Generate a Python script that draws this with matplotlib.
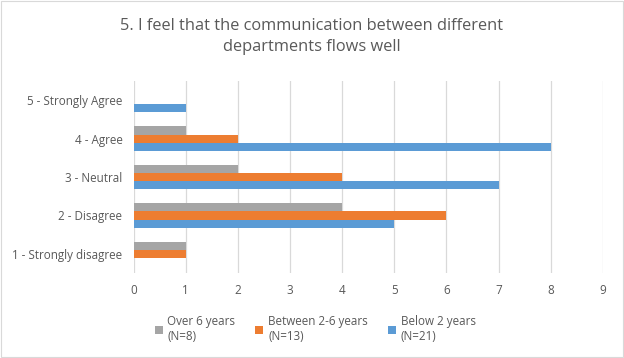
import matplotlib
matplotlib.use("Agg")
import matplotlib.pyplot as plt
import numpy as np
from matplotlib.patches import Rectangle

categories = ["1 - Strongly disagree", "2 - Disagree", "3 - Neutral", "4 - Agree", "5 - Strongly Agree"]
over6 = [1, 4, 2, 1, 0]
between = [1, 6, 4, 2, 0]
below2 = [0, 5, 7, 8, 1]
series_names = ["Over 6 years\n(N=8)", "Between 2-6 years\n(N=13)", "Below 2 years\n(N=21)"]
colors = ["#a5a5a5", "#ed7d31", "#5b9bd5"]
title = "5. I feel that the communication between different\ndepartments flows well"

plt.rcParams['font.family'] = ['Open Sans', 'DejaVu Sans']
fig = plt.figure(figsize=(6.24, 3.58), dpi=100)
ax = fig.add_axes([0.214, 0.237, 0.752, 0.537])

y = np.arange(len(categories))
h = 0.21
for vals, off, c, n in zip([over6, between, below2], [h, 0, -h], colors, series_names):
    ax.barh(y + off, vals, height=h, color=c, label=n, zorder=3)

ax.set_xlim(0, 9)
ax.set_ylim(-0.5, len(categories) - 0.5)
ax.set_xticks(range(0, 10))
ax.set_yticks(y)
ax.set_yticklabels(categories)
ax.grid(axis='x', color='#d9d9d9', linewidth=0.9, zorder=0)
for s in ax.spines.values():
    s.set_visible(False)
ax.tick_params(axis='both', length=0, colors='#595959', labelsize=8.4)
ax.tick_params(axis='x', pad=8)
ax.tick_params(axis='y', pad=8)

fig.text(0.5, 0.898, title, ha='center', va='center', fontsize=11.8, color='#595959', linespacing=1.4)

leg = fig.legend(loc='center', bbox_to_anchor=(0.505, 0.08), ncol=3, frameon=False,
                 fontsize=8.4, labelcolor='#595959', handlelength=0.7, handleheight=0.7,
                 handletextpad=0.4, columnspacing=1.7, labelspacing=0.2)

fig.patches.append(Rectangle((0.002, 0.003), 0.996, 0.994, transform=fig.transFigure,
                             fill=False, edgecolor='#d9d9d9', linewidth=0.8))

fig.savefig("out.png", dpi=100)
